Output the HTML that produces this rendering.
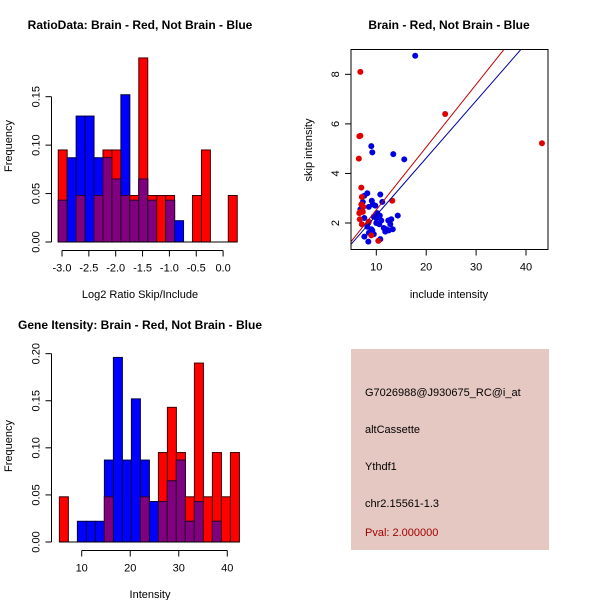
<!DOCTYPE html>
<html><head><meta charset="utf-8"><style>
body{margin:0;background:#fff}
svg{display:block;font-family:"Liberation Sans",sans-serif}
</style></head><body>
<svg id="c" width="600" height="600" xmlns="http://www.w3.org/2000/svg">
<rect width="600" height="600" fill="#fff"/>
<text x="140" y="29" font-size="12" font-weight="bold" text-anchor="middle">RatioData: Brain - Red, Not Brain - Blue</text>
<text x="449" y="29" font-size="12" font-weight="bold" text-anchor="middle">Brain - Red, Not Brain - Blue</text>
<text x="140" y="329" font-size="12" font-weight="bold" text-anchor="middle">Gene Itensity: Brain - Red, Not Brain - Blue</text>
<g>
<rect x="351" y="349" width="198" height="201" fill="#e6c8c2"/>
<text x="365" y="396" font-size="11">G7026988@J930675_RC@i_at</text>
<text x="365" y="433" font-size="11">altCassette</text>
<text x="365" y="470" font-size="11">Ythdf1</text>
<text x="365" y="507" font-size="11">chr2.15561-1.3</text>
<text x="365" y="536" font-size="11" fill="#a00000">Pval: 2.000000</text>
</g>
<g id="g1"></g><g id="g2"></g><g id="g3"></g>
</svg>
<script>
// Ratio histogram data
const ratioStart = -3.07;
const ratioBinWidth = 1/6;
const ratioRed = [0.095,0,0.048,0,0.048,0.095,0.095,0.048,0.048,0.19,0.048,0.048,0.048,0,0,0.048,0.095,0,0,0.048];
const ratioBlue = [0.043,0.087,0.13,0.13,0.087,0.087,0.065,0.152,0.043,0.065,0.043,0,0.043,0.022,0,0,0,0,0,0];
const ratioXTicks = [-3.0,-2.5,-2.0,-1.5,-1.0,-0.5,0.0];
const ratioXLabels = ["-3.0","-2.5","-2.0","-1.5","-1.0","-0.5","0.0"];
const ratioYTicks = [0,0.05,0.10,0.15];
const ratioYLabels = ["0.00","0.05","0.10","0.15"];
// Intensity histogram data
const intStart = 5.4;
const intBinWidth = 1.855;
const intRed = [0.048,0,0,0,0,0.048,0,0,0,0.048,0,0.095,0.143,0.095,0.048,0.19,0.048,0.095,0.048,0.095];
const intBlue = [0,0,0.022,0.022,0.022,0.087,0.196,0.087,0.152,0.087,0.043,0.043,0.065,0.087,0.022,0.043,0,0.022,0,0];
const intXTicks = [10,20,30,40];
const intYTicks = [0,0.05,0.10,0.15,0.20];
const intYLabels = ["0.00","0.05","0.10","0.15","0.20"];
// Scatter data
const blueX = [17.8,9,9.2,13.4,15.6,14.3,10.8,8.2,7.6,7.3,9.1,9.3,8.5,9.8,11.2,6.8,10.2,10.7,10,11,9.5,7.6,8.4,10,10.6,11.5,12,12.4,13,12.8,13.3,11.8,12.5,9,8.2,8.5,9.5,7.6,8.4,10.8,9.2];
const blueY = [8.75,5.1,4.85,4.78,4.57,2.3,3.15,3.2,3.1,2.85,2.9,2.75,2.65,2.7,2.85,2.55,2.4,2.3,2.2,2.1,2.25,2.2,2.0,2.0,1.95,1.8,1.75,2.1,2.15,1.95,1.75,1.65,1.7,1.75,1.85,1.6,1.55,1.45,1.25,1.35,1.7];
const redX = [6.8,6.6,6.8,6.5,7,23.8,43.2,7.1,7,7.4,6.8,6.6,6.7,7.1,8.5,9,10.4,13.2,7.3];
const redY = [8.1,5.5,5.52,4.6,3.43,6.4,5.22,3.05,2.75,2.65,2.45,2.4,2.15,1.95,2.05,1.5,1.28,2.9,2.45];
const redSlope = 0.253, blueSlope = 0.231;
const scXTicks = [10,20,30,40];
const scYTicks = [2,4,6,8];

const NS="http://www.w3.org/2000/svg";
function mk(parent,tag,attrs){const e=document.createElementNS(NS,tag);for(const k in attrs)e.setAttribute(k,attrs[k]);parent.appendChild(e);return e;}
function txt(parent,x,y,s,opts){const e=mk(parent,'text',Object.assign({x:x,y:y,'font-size':11},opts||{}));e.textContent=s;return e;}

function hist(g,start,bw,red,blue,xs,ys,xT,xL,yT,yL,xLab,name,axY,axX){
  const n=red.length;
  for(let i=0;i<n;i++){
    const x0=xs(start+i*bw),x1=xs(start+(i+1)*bw);
    const r=red[i],b=blue[i],m=Math.min(r,b);
    if(r>0){const e=mk(g,'rect',{x:x0,y:ys(r),width:x1-x0,height:ys(0)-ys(r),fill:'#ff0000',stroke:'#400000','stroke-width':1});
      
      }
    if(b>0){const e=mk(g,'rect',{x:x0,y:ys(b),width:x1-x0,height:ys(0)-ys(b),fill:'#0000ff',stroke:'#000040','stroke-width':1});
      
      }
    if(m>0){const e=mk(g,'rect',{x:x0,y:ys(m),width:x1-x0,height:ys(0)-ys(m),fill:'#800080',stroke:'#300030','stroke-width':1});
      
      }
  }
  const bl=mk(g,'line',{x1:xs(start),x2:xs(start+n*bw),y1:ys(0),y2:ys(0),stroke:'#000'});
  
  
  // x axis
  const xa=mk(g,'line',{x1:xs(xT[0]),x2:xs(xT[xT.length-1]),y1:axY,y2:axY,stroke:'#000'});
  
  
  xT.forEach((v,i)=>{mk(g,'line',{x1:xs(v),x2:xs(v),y1:axY,y2:axY+6,stroke:'#000'});
    const t=txt(g,xs(v),axY+21,xL[i],{'text-anchor':'middle'});
    
    });
  const ya=mk(g,'line',{x1:axX,x2:axX,y1:ys(yT[0]),y2:ys(yT[yT.length-1]),stroke:'#000'});
  
  
  yT.forEach((v,i)=>{mk(g,'line',{x1:axX,x2:axX-6,y1:ys(v),y2:ys(v),stroke:'#000'});
    const t=txt(g,axX-12,ys(v),yL[i],{'text-anchor':'middle',transform:`rotate(-90 ${axX-12} ${ys(v)})`});
    
    });
  return g;
}
// Panel 1
{
  const g=document.getElementById('g1');
  
  
  const xs=v=>62+(v+3)*53.7, ys=v=>242-v*968.7;
  hist(g,ratioStart,ratioBinWidth,ratioRed,ratioBlue,xs,ys,ratioXTicks,ratioXLabels,ratioYTicks,ratioYLabels,'',0,250.5,51.5);
  const xl=txt(g,140,298,'Log2 Ratio Skip/Include',{'text-anchor':'middle'});
  
  
  const yl=txt(g,12,146,'Frequency',{'text-anchor':'middle',transform:'rotate(-90 12 146)'});
  
  
}
// Panel 3
{
  const g=document.getElementById('g3');
  
  
  const xs=v=>81.7+(v-10)*4.853, ys=v=>542-v*941.7;
  hist(g,intStart,intBinWidth,intRed,intBlue,xs,ys,intXTicks,intXTicks.map(String),intYTicks,intYLabels,'',0,550.5,51.5);
  const xl=txt(g,150,598,'Intensity',{'text-anchor':'middle'});
  
  
  const yl=txt(g,12,446,'Frequency',{'text-anchor':'middle',transform:'rotate(-90 12 446)'});
  
  
}
// Panel 2 scatter
{
  const g=document.getElementById('g2');
  
  
  const L=351,R=548,T=49.5,B=249.5;
  const xs=v=>376.3+(v-10)*4.99, ys=v=>223-(v-2)*24.78;
  const defs=mk(g,'defs',{});const cp=mk(defs,'clipPath',{id:'clip'});mk(cp,'rect',{x:L,y:T,width:R-L,height:B-T});
  const pts=mk(g,'g',{'clip-path':'url(#clip)'});
  for(let i=0;i<blueX.length;i++){const c=mk(pts,'circle',{cx:xs(blueX[i]),cy:ys(blueY[i]),r:3,fill:'#0000e0'});
    
    }
  for(let i=0;i<redX.length;i++){const c=mk(pts,'circle',{cx:xs(redX[i]),cy:ys(redY[i]),r:3,fill:'#e00000'});
    
    }
  const x0=0,x1=50;
  const rl=mk(pts,'line',{x1:xs(x0),y1:ys(redSlope*x0),x2:xs(x1),y2:ys(redSlope*x1),stroke:'#c00000','stroke-width':1});
  
  
  const bl=mk(pts,'line',{x1:xs(x0),y1:ys(blueSlope*x0),x2:xs(x1),y2:ys(blueSlope*x1),stroke:'#0000a0','stroke-width':1});
  
  
  const box=mk(g,'rect',{x:L,y:T,width:R-L,height:B-T,fill:'none',stroke:'#000'});
  
  
  scXTicks.forEach(v=>{mk(g,'line',{x1:xs(v),x2:xs(v),y1:B,y2:B+6,stroke:'#000'});
    const t=txt(g,xs(v),B+21,String(v),{'text-anchor':'middle'});
    
    });
  scYTicks.forEach(v=>{mk(g,'line',{x1:L,x2:L-6,y1:ys(v),y2:ys(v),stroke:'#000'});
    const t=txt(g,L-12,ys(v),String(v),{'text-anchor':'middle',transform:`rotate(-90 ${L-12} ${ys(v)})`});
    
    });
  const xl=txt(g,449,298,'include intensity',{'text-anchor':'middle'});
  
  
  const yl=txt(g,312,150,'skip intensity',{'text-anchor':'middle',transform:'rotate(-90 312 150)'});
  
  
}
</script>
</body></html>
